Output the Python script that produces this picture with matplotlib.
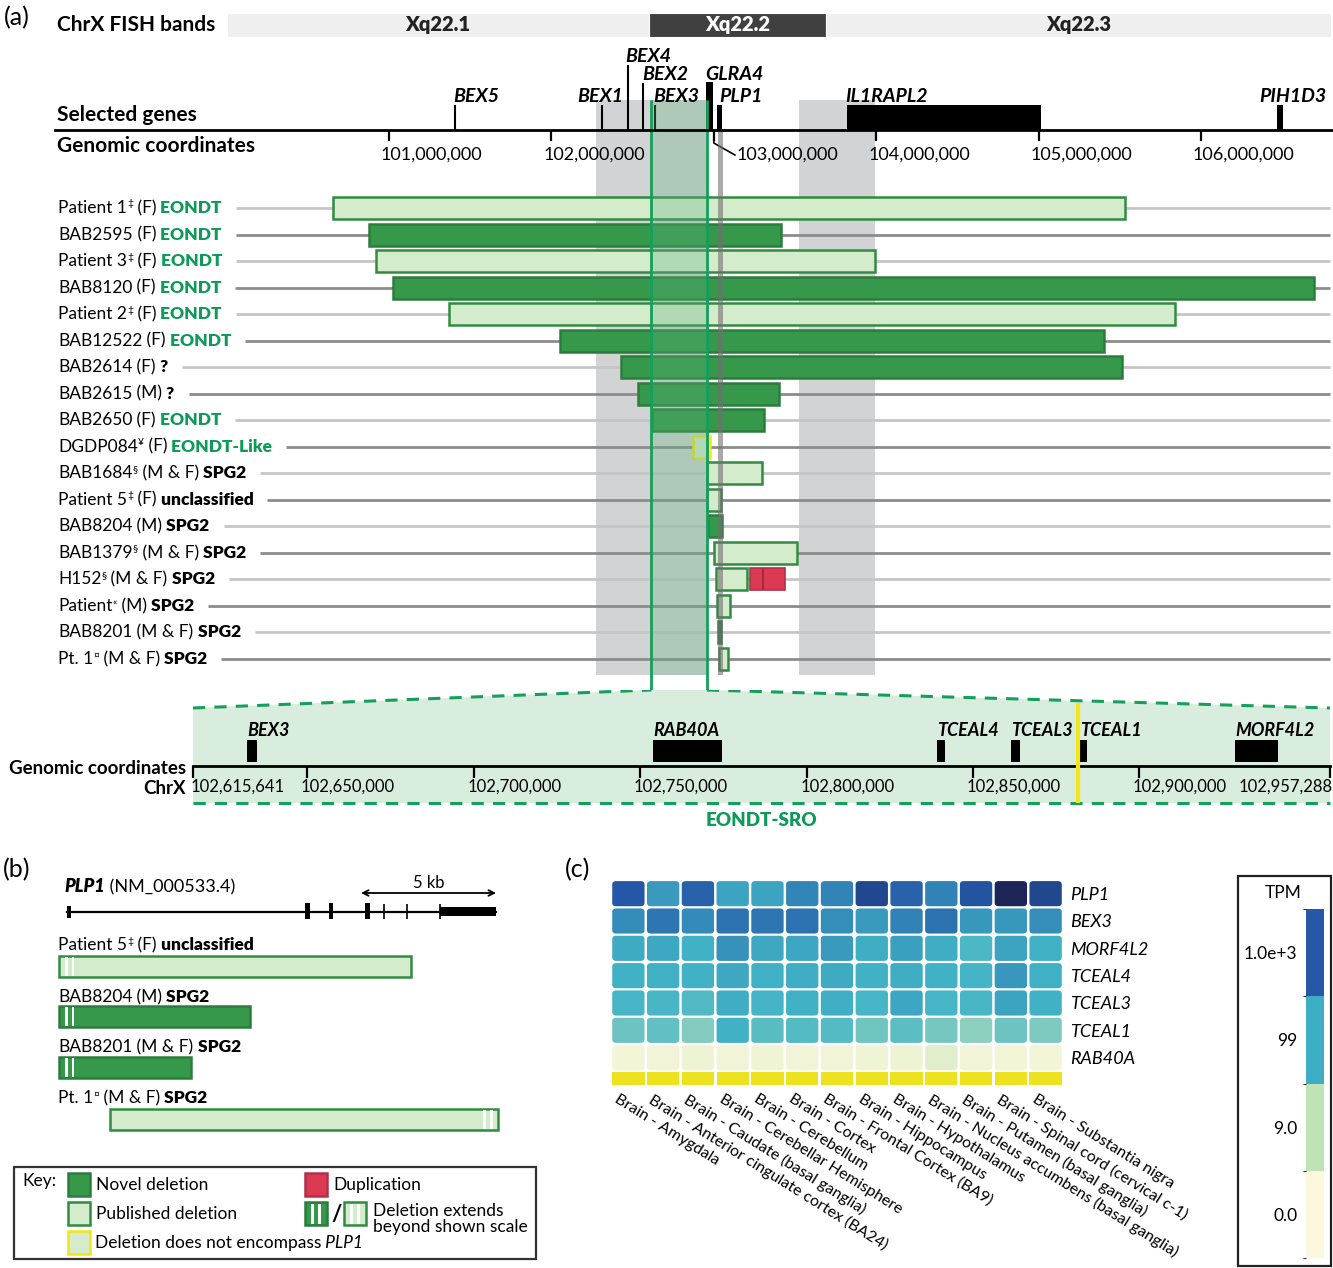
import numpy as np
import matplotlib
matplotlib.use('Agg')
import matplotlib.pyplot as plt
from matplotlib.patches import Rectangle, Polygon, FancyBboxPatch
from matplotlib.colors import LinearSegmentedColormap, ListedColormap, BoundaryNorm
from matplotlib.cm import ScalarMappable

plt.rcParams['font.family'] = ['Lato', 'DejaVu Sans']

W, H = 1333, 1268

# ---------------- data ----------------
band_names = ['Xq22.1', 'Xq22.2', 'Xq22.3']
band_edges = [100.002e6, 102.601e6, 103.691e6, 106.800e6]
band_dark = [False, True, False]

coord_ticks = [101e6, 102e6, 103e6, 104e6, 105e6, 106e6]

line_genes = ['BEX5', 'BEX1', 'BEX4', 'BEX2', 'BEX3']
line_gene_pos = [101.406e6, 102.312e6, 102.472e6, 102.564e6, 102.638e6]
box_genes = ['GLRA4', 'PLP1', 'IL1RAPL2', 'PIH1D3']
box_gene_start = [102.952e6, 103.020e6, 103.820e6, 106.468e6]
box_gene_end = [102.995e6, 103.050e6, 105.015e6, 106.505e6]

grey_regions = [(102.275e6, 102.957e6), (103.525e6, 103.993e6)]
plp1_mark = (103.024e6, 103.054e6)

patients = ['Patient 1', 'BAB2595', 'Patient 3', 'BAB8120', 'Patient 2', 'BAB12522',
            'BAB2614', 'BAB2615', 'BAB2650', 'DGDP084', 'BAB1684', 'Patient 5',
            'BAB8204', 'BAB1379', 'H152', 'Patient', 'BAB8201', 'Pt. 1']
superscripts = ['‡', '', '‡', '', '‡', '', '', '', '', '¥', '§', '‡', '', '§', '§', '«', '', '¤']
sexes = ['F', 'F', 'F', 'F', 'F', 'F', 'F', 'M', 'F', 'F', 'M & F', 'F', 'M', 'M & F',
         'M & F', 'M', 'M & F', 'M & F']
phenotypes = ['EONDT', 'EONDT', 'EONDT', 'EONDT', 'EONDT', 'EONDT', '?', '?', 'EONDT',
              'EONDT-Like', 'SPG2', 'unclassified', 'SPG2', 'SPG2', 'SPG2', 'SPG2', 'SPG2', 'SPG2']
del_start = [100.655e6, 100.877e6, 100.920e6, 101.025e6, 101.369e6, 102.053e6, 102.429e6,
             102.533e6, 102.619e6, 102.872e6, 102.958e6, 102.958e6, 102.964e6, 103.001e6,
             103.013e6, 103.019e6, 103.023e6, 103.032e6]
del_end = [105.532e6, 103.414e6, 103.993e6, 106.696e6, 105.840e6, 105.403e6, 105.514e6,
           103.401e6, 103.309e6, 102.977e6, 103.297e6, 103.044e6, 103.050e6, 103.512e6,
           103.204e6, 103.099e6, 103.044e6, 103.087e6]
del_kind = ['published', 'novel', 'published', 'novel', 'published', 'novel', 'novel',
            'novel', 'novel', 'nonplp1', 'published', 'published', 'novel', 'published',
            'published', 'published', 'novel', 'published']
dup_patient = 'H152'
dup_start, dup_split, dup_end = 103.223e6, 103.303e6, 103.438e6

sro_start, sro_end = 102615641, 102957288
zoom_ticks = [102650000, 102700000, 102750000, 102800000, 102850000, 102900000]
zoom_genes = ['BEX3', 'RAB40A', 'TCEAL4', 'TCEAL3', 'TCEAL1', 'MORF4L2']
zoom_gene_start = [102631900, 102753900, 102839200, 102861400, 102882200, 102928700]
zoom_gene_end = [102634900, 102774600, 102841600, 102864100, 102884300, 102941700]
zoom_marker = 102881560

# panel b (kb from PLP1 start)
plp1_exons = [(0.0, 0.15), (8.81, 9.0), (9.70, 9.85), (11.04, 11.22), (13.81, 15.89)]
plp1_thin = [11.74, 12.61, 13.81]
b_names = ['Patient 5', 'BAB8204', 'BAB8201', 'Pt. 1']
b_sup = ['‡', '', '', '¤']
b_sex = ['F', 'M', 'M & F', 'M & F']
b_pheno = ['unclassified', 'SPG2', 'SPG2', 'SPG2']
b_start = [-0.30, -0.30, -0.30, 1.59]
b_end = [12.74, 6.78, 4.59, 15.96]
b_kind = ['published', 'novel', 'novel', 'published']
b_extends = ['left', 'left', 'left', 'right']

# panel c
tissues = ['Brain - Amygdala', 'Brain - Anterior cingulate cortex (BA24)',
           'Brain - Caudate (basal ganglia)', 'Brain - Cerebellar Hemisphere',
           'Brain - Cerebellum', 'Brain - Cortex', 'Brain - Frontal Cortex (BA9)',
           'Brain - Hippocampus', 'Brain - Hypothalamus',
           'Brain - Nucleus accumbens (basal ganglia)', 'Brain - Putamen (basal ganglia)',
           'Brain - Spinal cord (cervical c-1)', 'Brain - Substantia nigra']
hm_genes = ['PLP1', 'BEX3', 'MORF4L2', 'TCEAL4', 'TCEAL3', 'TCEAL1', 'RAB40A']
tpm = np.array([
    [1000, 185, 800, 150, 150, 316, 330, 1950, 800, 340, 1200, 8000, 2000],
    [270, 470, 280, 525, 470, 540, 260, 185, 340, 525, 200, 200, 260],
    [120, 130, 100, 230, 130, 140, 185, 118, 160, 118, 80, 150, 105],
    [100, 105, 100, 130, 105, 115, 120, 100, 115, 100, 95, 200, 105],
    [90, 88, 75, 115, 95, 100, 110, 90, 140, 92, 88, 150, 102],
    [45, 55, 30, 100, 62, 70, 70, 42, 60, 38, 25, 45, 32],
    [0.4, 0.5, 0.7, 0.5, 0.6, 0.5, 0.5, 0.6, 0.7, 2.0, 0.5, 0.4, 0.4],
])
cb_labels = ['0.0', '9.0', '99', '1.0e+3']

# ---------------- styles ----------------
DARK_FC, DARK_EC = '#36984a', '#2b7d3c'
LIGHT_FC, LIGHT_EC = '#d4ebcc', '#2f8c40'
YEL = '#f2e614'
DUP_FC, DUP_EC = '#dc3a52', '#b3304a'
TXT_GREEN = '#0f9a5a'
GREY = '#d1d3d4'
FS = 12.5

fig = plt.figure(figsize=(W / 100, H / 100), dpi=100)


def px_axes(x0, y0, x1, y1):
    ax = fig.add_axes([x0 / W, 1 - y1 / H, (x1 - x0) / W, (y1 - y0) / H])
    ax.set_axis_off()
    return ax


# genome axis: whole width, px 389 = 101 Mb, 162.4 px per Mb
G0 = 101e6 - 389 / 162.4e-6
G1 = 101e6 + (W - 389) / 162.4e-6
ax_a = px_axes(0, 0, W, 690)
ax_a.set_xlim(G0, G1)
ax_a.set_ylim(690, 0)

# zoom axis: px 193 = SRO start, px 1330 = SRO end
zs = (1330 - 193) / (sro_end - sro_start)
ax_z = px_axes(0, 690, W, 840)
ax_z.set_xlim(sro_start - 193 / zs, sro_start + (W - 193) / zs)
ax_z.set_ylim(840, 690)

# panel b axis in kb, px 67 = 0 kb, 27 px/kb
ax_b = px_axes(0, 840, 560, 1160)
ax_b.set_xlim(-67 / 27, (560 - 67) / 27)
ax_b.set_ylim(1160, 840)

ax_c = px_axes(611, 880, 1063, 1085)
ax_c.set_xlim(0, 13)
ax_c.set_ylim(7.5, 0)

ax_cb = fig.add_axes([1306 / W, 1 - 1258 / H, 18 / W, (1258 - 909) / H])

# overlay for text in pixel coords
ax_px = px_axes(0, 0, W, H)
ax_px.set_xlim(0, W)
ax_px.set_ylim(H, 0)

renderer = fig.canvas.get_renderer()


def rich(x, y, parts, size=FS):
    for s, kw in parts:
        kw = dict(kw)
        fs = kw.pop('size', size)
        dy = kw.pop('dy', 0)
        t = ax_px.text(x, y - dy, s, fontsize=fs, ha='left', va='center', **kw)
        x += t.get_window_extent(renderer).width
    return x


def label_parts(name, sup, sex, pheno, green):
    parts = [(name, {})]
    if sup:
        parts.append((sup, {'size': 7.5, 'dy': 4}))
    parts.append((f' ({sex})', {}))
    col = TXT_GREEN if green else 'black'
    parts.append((' ' + pheno, {'fontweight': 'heavy', 'color': col}))
    return parts


# ---------------- panel (a) ----------------
ax_px.text(4, 18, '(a)', fontsize=18, va='center')
for lab, y in [('ChrX FISH bands', 25), ('Selected genes', 115), ('Genomic coordinates', 146)]:
    ax_px.text(57, y, lab, fontsize=15, fontweight='bold', va='center')

for i, name in enumerate(band_names):
    s, e = band_edges[i], band_edges[i + 1]
    ax_a.add_patch(Rectangle((s, 13), e - s, 24, fc='#404040' if band_dark[i] else '#efefef',
                             ec='white', lw=0.8))
    ax_a.text((s + e) / 2, 25, name, ha='center', va='center', fontsize=14.5, fontweight='heavy',
              color='white' if band_dark[i] else '#222222')

for s, e in grey_regions:
    ax_a.add_patch(Rectangle((s, 100), e - s, 575, fc=GREY, ec='none', zorder=0.5))

ax_px.plot([55, 1332], [130, 130], color='black', lw=2, zorder=4)
ax_a.vlines(coord_ticks, 130, 141, color='black', lw=1.6)
for p in coord_ticks:
    if p == 103e6:
        ax_a.plot([p, p, p + 0.13e6], [130, 143, 155], color='black', lw=1.2)
        ax_a.text(p + 0.14e6, 155, f'{p:,.0f}', ha='left', va='center', fontsize=13)
    else:
        ax_a.text(p - 0.05e6, 155, f'{p:,.0f}', ha='left', va='center', fontsize=13)

gene_tops = {'BEX5': 105, 'BEX1': 105, 'BEX4': 65, 'BEX2': 83, 'BEX3': 105,
             'GLRA4': 82, 'PLP1': 105, 'IL1RAPL2': 105, 'PIH1D3': 105}
gene_label_px = {'BEX5': (476, 97), 'BEX1': (600, 97), 'BEX4': (648, 56), 'BEX2': (665, 74),
                 'BEX3': (676, 97), 'GLRA4': (734, 74), 'PLP1': (741, 97),
                 'IL1RAPL2': (887, 97), 'PIH1D3': (1293, 97)}
for g, p in zip(line_genes, line_gene_pos):
    ax_a.vlines(p, gene_tops[g], 130, color='black', lw=1.5)
for g, s, e in zip(box_genes, box_gene_start, box_gene_end):
    ax_a.add_patch(Rectangle((s, gene_tops[g]), e - s, 130 - gene_tops[g], fc='black', ec='none'))
for g, (x, y) in gene_label_px.items():
    ax_px.text(x, y, g, ha='center', va='center', fontsize=14, fontweight='bold', style='italic')

# patient rows
row_y = [208 + i * 26.53 for i in range(len(patients))]
to_data = ax_a.transData.inverted()
for i, name in enumerate(patients):
    y = row_y[i]
    green = phenotypes[i].startswith('EONDT')
    xe = rich(58, y, label_parts(name, superscripts[i], sexes[i], phenotypes[i], green))
    x0 = to_data.transform((xe + 14, 0))[0]
    x1 = to_data.transform((1330, 0))[0]
    ax_a.hlines(y, x0, x1, color='#c6c6c6' if i % 2 == 0 else '#8c8c8c', lw=2, zorder=1)
    k = del_kind[i]
    if k == 'novel':
        fc, ec = DARK_FC, DARK_EC
    elif k == 'published':
        fc, ec = LIGHT_FC, LIGHT_EC
    else:
        fc, ec = LIGHT_FC, YEL
    ax_a.add_patch(Rectangle((del_start[i], y - 11), del_end[i] - del_start[i], 22,
                             fc=fc, ec=ec, lw=1.8, zorder=3))
    if name == dup_patient:
        ax_a.add_patch(Rectangle((dup_start, y - 11), dup_end - dup_start, 22,
                                 fc=DUP_FC, ec=DUP_EC, lw=1.2, zorder=3))
        ax_a.vlines(dup_split, y - 11, y + 11, color='#a02a40', lw=1.5, zorder=3.5)

# SRO overlay and PLP1 marker
ax_a.add_patch(Rectangle((sro_start, 100), sro_end - sro_start, 575, fc='#60b080',
                         alpha=0.3, ec='none', zorder=5))
ax_a.vlines([sro_start, sro_end], 100, 690, color='#12a05a', lw=2, zorder=6)
ax_a.add_patch(Rectangle((plp1_mark[0], 130), plp1_mark[1] - plp1_mark[0], 545, fc='#707070',
                         alpha=0.6, ec='none', zorder=5))

# ---------------- zoom panel ----------------
fig_to_z = ax_z.transData.inverted()
apex_l = fig_to_z.transform(ax_a.transData.transform((sro_start, 690)))[0]
apex_r = fig_to_z.transform(ax_a.transData.transform((sro_end, 690)))[0]
ax_z.add_patch(Polygon([(sro_start, 708), (apex_l, 690), (apex_r, 690), (sro_end, 708),
                        (sro_end, 803), (sro_start, 803)], closed=True, fc='#d9eddf', ec='none',
                       zorder=0))
dash = dict(color='#14a05a', lw=2.2, ls=(0, (4, 3)), zorder=2)
ax_z.plot([sro_start, apex_l], [708, 690], **dash)
ax_z.plot([apex_r, sro_end], [690, 708], **dash)
ax_z.plot([sro_start, sro_end], [803, 803], **dash)

ax_z.plot([sro_start, sro_end], [766, 766], color='black', lw=2, zorder=3)
all_ticks = [sro_start] + zoom_ticks + [sro_end]
ax_z.vlines(all_ticks, 766, 778, color='black', lw=1.6, zorder=3)
for p in all_ticks:
    if p == sro_start:
        ax_z.text(p - 800, 787, f'{p:,}', ha='left', va='center', fontsize=12)
    elif p == sro_end:
        ax_z.text(p + 900, 787, f'{p:,}', ha='right', va='center', fontsize=12)
    else:
        ax_z.text(p - 1900, 787, f'{p:,}', ha='left', va='center', fontsize=12)
for g, s, e in zip(zoom_genes, zoom_gene_start, zoom_gene_end):
    ax_z.add_patch(Rectangle((s, 740), e - s, 22, fc='black', ec='none', zorder=3))
    ax_z.text(s, 731, g, ha='left', va='center', fontsize=13, fontweight='bold',
              style='italic')
ax_z.vlines(zoom_marker, 703, 803, color=YEL, lw=3, zorder=4)

ax_px.text(186, 768, 'Genomic coordinates', ha='right', va='center', fontsize=13.5,
           fontweight='bold')
ax_px.text(186, 788, 'ChrX', ha='right', va='center', fontsize=13.5, fontweight='bold')
ax_px.text(761, 820, 'EONDT-SRO', ha='center', va='center', fontsize=13.5, fontweight='heavy',
           color=TXT_GREEN)

# ---------------- panel (b) ----------------
ax_px.text(3, 870, '(b)', fontsize=18, va='center')
rich(64, 887, [('PLP1', {'fontweight': 'heavy', 'style': 'italic'}), (' (NM_000533.4)', {})],
     size=13)
ax_b.plot([0, plp1_exons[-1][1]], [911.5, 911.5], color='black', lw=1.6)
for i, (s, e) in enumerate(plp1_exons):
    if i == 0:
        y0, h = 906, 12
    elif i == len(plp1_exons) - 1:
        y0, h = 907, 9
    else:
        y0, h = 903, 16
    ax_b.add_patch(Rectangle((s, y0), e - s, h, fc='black', ec='none'))
ax_b.vlines(plp1_thin, 904, 919, color='black', lw=1.2)
ax_b.annotate('', xy=(10.89, 893), xytext=(15.89, 893),
              arrowprops=dict(arrowstyle='<->', lw=1.3, color='black', shrinkA=0, shrinkB=0))
ax_b.text(13.4, 883, '5 kb', ha='center', va='center', fontsize=12)

b_label_y = [945, 997, 1047, 1098]
b_bar_y = [966.5, 1016, 1067, 1119]
for i, name in enumerate(b_names):
    rich(58, b_label_y[i], label_parts(name, b_sup[i], b_sex[i], b_pheno[i], False))
    fc, ec = (DARK_FC, DARK_EC) if b_kind[i] == 'novel' else (LIGHT_FC, LIGHT_EC)
    y = b_bar_y[i]
    ax_b.add_patch(Rectangle((b_start[i], y - 10.5), b_end[i] - b_start[i], 21, fc=fc, ec=ec,
                             lw=1.8, zorder=2))
    if b_extends[i] == 'left':
        offs = [b_start[i] + 0.22, b_start[i] + 0.47]
    else:
        offs = [b_end[i] - 0.55, b_end[i] - 0.30]
    for o in offs:
        ax_b.add_patch(Rectangle((o, y - 9.5), 0.1, 19, fc='white', ec='none', zorder=3))

# key
ax_px.add_patch(Rectangle((14, 1167), 522, 92, fc='white', ec='#333333', lw=1.6))
ax_px.text(22, 1181, 'Key:', fontsize=12.5, va='center')
key_items = [(68, 1173, DARK_FC, DARK_EC, 'Novel deletion'),
             (68, 1202, LIGHT_FC, LIGHT_EC, 'Published deletion'),
             (305, 1173, DUP_FC, DUP_EC, 'Duplication')]
for x, y, fc, ec, lab in key_items:
    ax_px.add_patch(Rectangle((x, y), 22, 23, fc=fc, ec=ec, lw=1.8))
    ax_px.text(x + 28, y + 12, lab, fontsize=12.5, va='center')
ax_px.add_patch(Rectangle((68, 1231), 22, 23, fc=LIGHT_FC, ec=YEL, lw=1.8))
rich(95, 1243, [('Deletion does not encompass', {}), (' PLP1', {'style': 'italic'})], size=12.5)
for x, fc, ec in [(305, DARK_FC, DARK_EC), (344, LIGHT_FC, LIGHT_EC)]:
    ax_px.add_patch(Rectangle((x, 1202), 22, 23, fc=fc, ec=ec, lw=1.8))
    for sx in (x + 6, x + 13):
        ax_px.add_patch(Rectangle((sx, 1203.5), 3, 20, fc='white', ec='none'))
ax_px.text(336.5, 1214, '/', fontsize=16, fontweight='bold', ha='center', va='center')
ax_px.text(373, 1219, 'Deletion extends\nbeyond shown scale', fontsize=12.5, va='center',
           linespacing=0.95)

# ---------------- panel (c) ----------------
ax_px.text(565, 870, '(c)', fontsize=18, va='center')
cmap = LinearSegmentedColormap.from_list(
    'tpm', [(0, '#fbf8dc'), (0.25, '#c2e3b9'), (0.5, '#41b3c6'), (0.75, '#2459a8'),
            (1.0, '#1b1e50')])
lv = np.log10(tpm + 1) / 4
for r in range(len(hm_genes)):
    for c in range(len(tissues)):
        ax_c.add_patch(FancyBboxPatch((c + 0.035, r + 0.04), 0.93, 0.92,
                                      boxstyle='round,pad=0,rounding_size=0.12',
                                      fc=cmap(lv[r, c]), ec='none'))
    ax_c.text(13.2, r + 0.55, hm_genes[r], fontsize=13, style='italic', va='center',
              clip_on=False)
for c in range(len(tissues)):
    ax_c.add_patch(Rectangle((c + 0.035, 7.03), 0.93, 0.47, fc='#ece31e', ec='none'))
    ax_c.text(c + 0.25, 7.75, tissues[c], rotation=-32, rotation_mode='anchor', ha='left',
              va='top', fontsize=11.5, clip_on=False)

cb_cmap = ListedColormap(['#fbf8dd', '#c0e2b7', '#3eaec5', '#2657a8'])
sm = ScalarMappable(norm=BoundaryNorm([0, 1, 2, 3, 4], 4), cmap=cb_cmap)
cb = fig.colorbar(sm, cax=ax_cb, ticks=[0.5, 1.5, 2.5, 3.5])
cb.outline.set_visible(False)
ax_cb.yaxis.set_ticks_position('left')
ax_cb.set_yticklabels(cb_labels, fontsize=12.5)
ax_cb.tick_params(length=0, pad=6)
ax_px.add_patch(Rectangle((1238, 876), 93, 390, fc='none', ec='#222222', lw=1.6))
ax_px.text(1283, 893, 'TPM', fontsize=12.5, ha='center', va='center')

fig.savefig('out.png', dpi=100)
